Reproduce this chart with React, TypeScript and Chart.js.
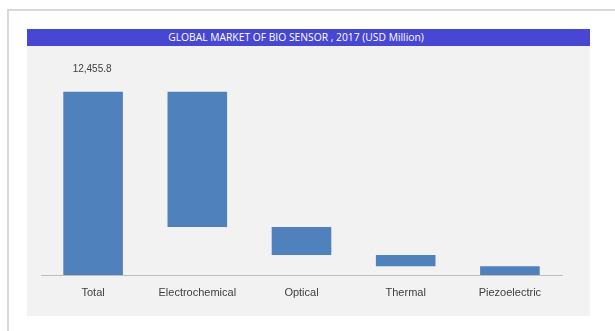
import React, { useEffect, useRef } from "react";
import { Chart, registerables } from "chart.js";

Chart.register(...registerables);

const TITLE = "GLOBAL MARKET OF BIO SENSOR , 2017 (USD Million)";
const categories = ["Total", "Electrochemical", "Optical", "Thermal", "Piezoelectric"];
const totalValue = 12455.8;
const segmentValues = [9200, 1900, 760, 595.8];
const yMax = 14000;

const BAR_COLOR = "#4f81bd";
const TEXT_COLOR = "#404040";

function buildRanges(): [number, number][] {
  const ranges: [number, number][] = [[0, totalValue]];
  let top = totalValue;
  for (const v of segmentValues) {
    ranges.push([top - v, top]);
    top -= v;
  }
  return ranges;
}

const labelPlugin = {
  id: "totalLabel",
  afterDatasetsDraw(chart: any) {
    const meta = chart.getDatasetMeta(0);
    const bar = meta.data[0];
    if (!bar) return;
    const ctx = chart.ctx;
    ctx.save();
    ctx.font = "10px 'Liberation Sans', Arial, sans-serif";
    ctx.fillStyle = TEXT_COLOR;
    ctx.textAlign = "center";
    ctx.textBaseline = "middle";
    const txt = totalValue.toLocaleString("en-US", { minimumFractionDigits: 1, maximumFractionDigits: 1 });
    ctx.fillText(txt, bar.x - 1, bar.y - 22);
    ctx.restore();
  },
};

export default function App() {
  const canvasRef = useRef<HTMLCanvasElement | null>(null);

  useEffect(() => {
    if (!canvasRef.current) return;
    const chart = new Chart(canvasRef.current, {
      type: "bar",
      data: {
        labels: categories,
        datasets: [
          {
            data: buildRanges() as any,
            backgroundColor: BAR_COLOR,
            borderWidth: 0,
            barPercentage: 1,
            categoryPercentage: 0.572,
          },
        ],
      },
      options: {
        animation: false,
        responsive: false,
        maintainAspectRatio: false,
        layout: { padding: { top: 23, left: 14, right: 28, bottom: 0 } },
        plugins: {
          legend: { display: false },
          tooltip: { enabled: false },
          title: { display: false },
        },
        scales: {
          y: { display: false, min: 0, max: yMax },
          x: {
            grid: { display: false },
            border: { display: true, color: "#bfbfbf", width: 1 },
            ticks: {
              color: TEXT_COLOR,
              font: { family: "'Liberation Sans', Arial, sans-serif", size: 11 },
              padding: 3,
              maxRotation: 0,
            },
            afterFit: (scale: any) => {
              scale.height = 41;
            },
          },
        },
      },
      plugins: [labelPlugin],
    });
    return () => chart.destroy();
  }, []);

  return (
    <div
      style={{
        position: "fixed",
        left: 0,
        top: 0,
        width: 615,
        height: 331,
        background: "#ffffff",
        overflow: "hidden",
      }}
    >
      <div
        style={{
          position: "absolute",
          left: 7,
          top: 9,
          right: 0,
          bottom: 0,
          borderTop: "2px solid #d9d9d9",
          borderLeft: "2px solid #d9d9d9",
        }}
      />
      <div
        style={{
          position: "absolute",
          left: 27,
          top: 29,
          width: 563,
          height: 287,
          background: "#f2f2f2",
        }}
      />
      <div
        style={{
          position: "absolute",
          left: 27,
          top: 29,
          width: 563,
          height: 17,
          background: "#4747d3",
          color: "#ffffff",
          fontFamily: "'Open Sans', sans-serif",
          fontSize: 10.3,
          lineHeight: "17px",
          textAlign: "center",
          boxSizing: "border-box",
          paddingRight: 25,
          whiteSpace: "nowrap",
        }}
      >
        {TITLE}
      </div>
      <canvas
        ref={canvasRef}
        width={563}
        height={270}
        style={{ position: "absolute", left: 27, top: 46, width: 563, height: 270 }}
      />
    </div>
  );
}
